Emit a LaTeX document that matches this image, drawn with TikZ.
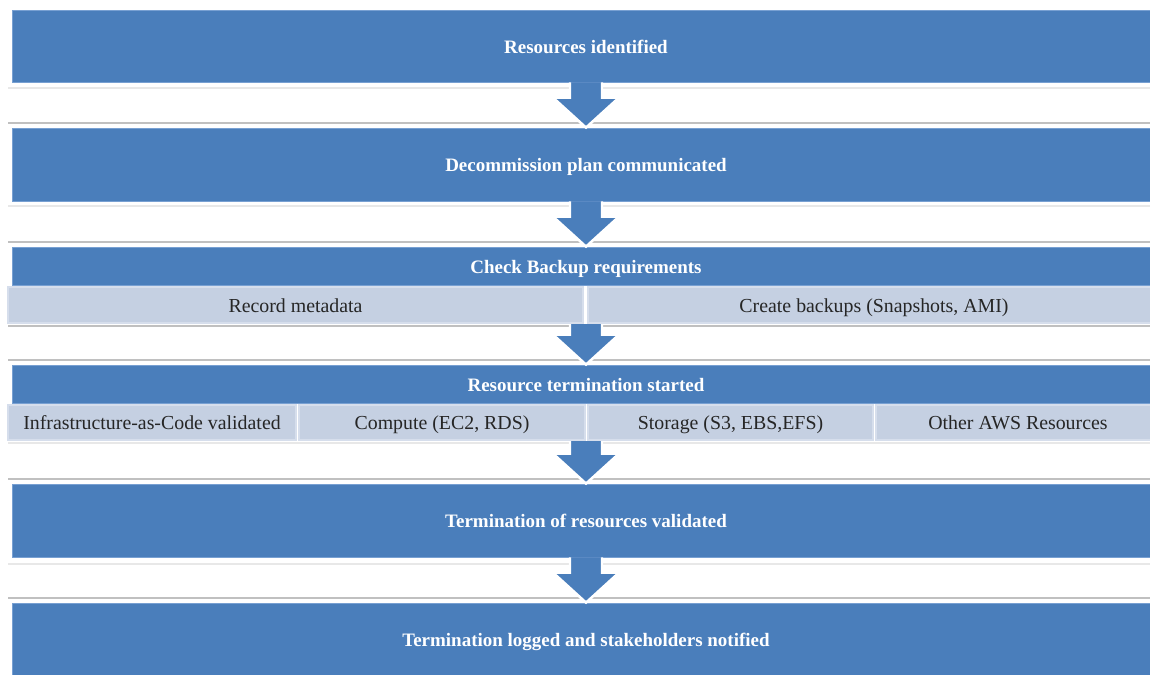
\documentclass[tikz,border=0pt]{standalone}
\usepackage{fontspec}
\setmainfont{Liberation Serif}
\usetikzlibrary{calc}

\definecolor{barblue}{RGB}{74,126,187}
\definecolor{baredge}{RGB}{120,160,210}
\definecolor{subblue}{RGB}{197,208,226}
\definecolor{subedge}{RGB}{214,222,236}
\definecolor{gapgray}{RGB}{192,192,192}
\definecolor{gapfaint}{RGB}{232,232,232}

\tikzset{
  bar/.style={fill=barblue, draw=baredge, line width=0.5pt, text=white,
    font=\fontsize{10.8}{13}\selectfont\bfseries, minimum width=22.96cm, inner sep=0pt,
    text height=2.1ex, text depth=0.3ex},
  subbox/.style={fill=subblue, draw=subedge, line width=1.2pt, text=black!85,
    font=\fontsize{11.3}{13}\selectfont, inner sep=0pt,
    text height=2.1ex, text depth=0.3ex},
  flowarrow/.style={fill=barblue, draw=white, line width=1.4pt, line join=miter},
  gapline/.style={draw=gapgray, line width=0.6pt},
  faintline/.style={draw=gapfaint, line width=0.6pt}
}

\begin{document}
\begin{tikzpicture}[x=0.02cm, y=-0.02cm]

    \useasboundingbox (0,0) rectangle (1150,675);

    % Gap lines
    \draw[faintline] (8,88) -- (1160,88);
    \draw[gapline] (8,123) -- (1160,123);
    \draw[faintline] (8,206) -- (1160,206);
    \draw[gapline] (8,242) -- (1160,242);
    \draw[gapline] (8,326) -- (1160,326);
    \draw[gapline] (8,360) -- (1160,360);
    \draw[faintline] (8,443) -- (1160,443);
    \draw[gapline] (8,479) -- (1160,479);
    \draw[faintline] (8,564) -- (1160,564);
    \draw[gapline] (8,598) -- (1160,598);

    % Steps
    \node[bar, minimum height=1.44cm] (b1) at (586,46) {Resources identified};
    \node[bar, minimum height=1.46cm] (b2) at (586,164.5) {Decommission plan communicated};
    \node[bar, minimum height=0.76cm] (b3) at (586,266) {Check Backup requirements};
    \node[bar, minimum height=0.76cm] (b4) at (586,384) {Resource termination started};
    \node[bar, minimum height=1.46cm] (b5) at (586,520.5) {Termination of resources validated};
    \node[bar, minimum height=1.44cm] (b6) at (586,639) {Termination logged and stakeholders notified};

    % Backup tasks
    \node[subbox, minimum width=11.5cm, minimum height=0.72cm] (s31) at (295.5,305) {Record metadata};
    \node[subbox, minimum width=11.44cm, minimum height=0.72cm] (s32) at (874,305) {Create backups (Snapshots, AMI)};

    % Termination tasks
    \node[subbox, minimum width=5.76cm, minimum height=0.7cm] (s41) at (152,422.5) {Infrastructure-as-Code validated};
    \node[subbox, minimum width=5.72cm, minimum height=0.7cm] (s42) at (442,422.5) {Compute (EC2, RDS)};
    \node[subbox, minimum width=5.7cm, minimum height=0.7cm] (s43) at (730.5,422.5) {Storage (S3, EBS,EFS)};
    \node[subbox, minimum width=5.68cm, minimum height=0.7cm] (s44) at (1018,422.5) {Other AWS Resources};

    \coordinate (a3) at (b4.north |- s31.south);
    \coordinate (a4) at (b5.north |- s42.south);

    % Arrows
    \foreach \s/\t in {b1.south/b2.north, b2.south/b3.north, a3/b4.north, a4/b5.north, b5.south/b6.north}
      \draw[flowarrow] ($(\s)+(-0.32cm,0)$) -- ($(\t)+(-0.32cm,0.6cm)$) -- ($(\t)+(-0.66cm,0.6cm)$)
        -- (\t) -- ($(\t)+(0.66cm,0.6cm)$) -- ($(\t)+(0.32cm,0.6cm)$) -- ($(\s)+(0.32cm,0)$);

\end{tikzpicture}
\end{document}
